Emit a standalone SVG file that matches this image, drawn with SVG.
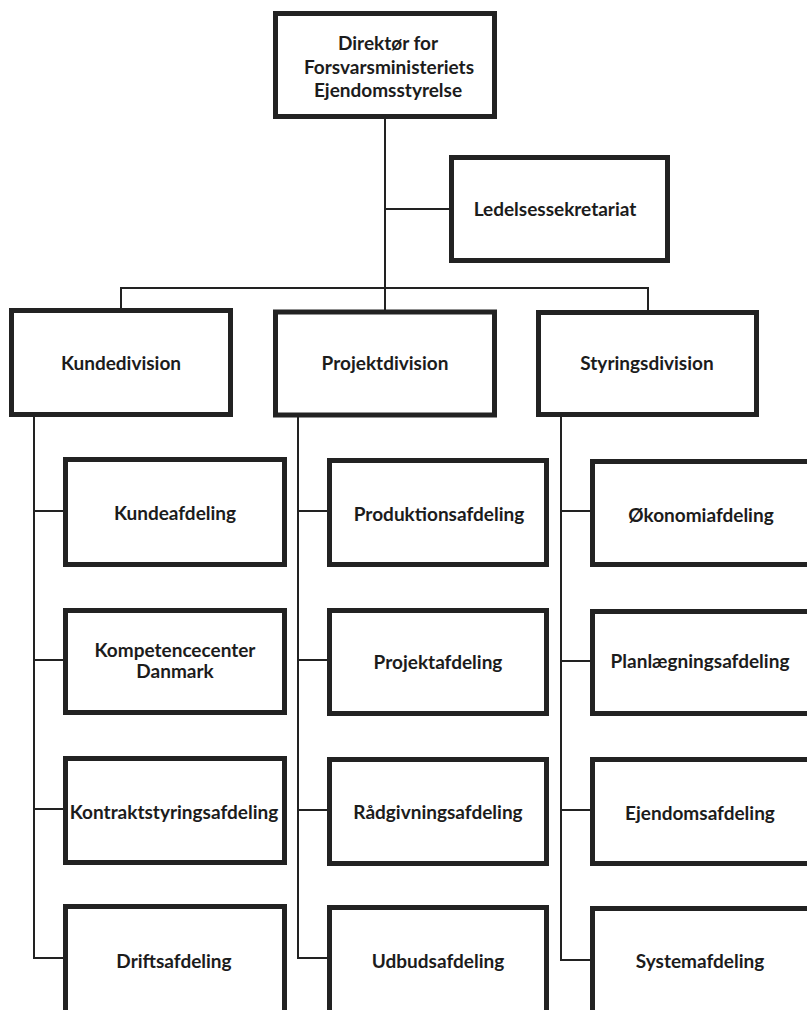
<svg xmlns="http://www.w3.org/2000/svg" width="807" height="1010" viewBox="0 0 807 1010">
<style>
.box{fill:#fff;stroke:#222;stroke-width:5}
.t{font-family:Lato,"Liberation Sans",sans-serif;font-weight:700;font-size:19px;fill:#1c1c1c;text-anchor:middle}
.c{fill:none;stroke:#222;stroke-width:2}
</style>
<rect width="807" height="1010" fill="#fff"/>
<g id="connectors" class="c">
<path d="M385 119V312"/>
<path d="M385 209H451"/>
<path d="M121 310V288H648V312"/>
<path d="M34 417V958H65M34 511H65M34 660H65M34 809H65"/>
<path d="M298 417V958H329M298 511H329M298 660H329M298 810H329"/>
<path d="M561 417V960H592M561 511H592M561 661H592M561 810H592"/>
</g>
<g id="direktor"><rect class="box" x="275.5" y="13.5" width="219" height="103"/>
<text class="t" x="388" y="50">Direktør for</text><text class="t" x="389" y="73.5">Forsvarsministeriets</text><text class="t" x="388" y="97">Ejendomsstyrelse</text></g>
<g id="ledelsessekretariat"><rect class="box" x="451.5" y="157.5" width="216" height="103"/><text class="t" x="555" y="216">Ledelsessekretariat</text></g>
<g id="kundedivision"><rect class="box" x="11.5" y="310.5" width="219" height="104"/><text class="t" x="121" y="370">Kundedivision</text></g>
<g id="projektdivision"><rect class="box" x="275.5" y="312" width="219" height="103"/><text class="t" x="385" y="370">Projektdivision</text></g>
<g id="styringsdivision"><rect class="box" x="538.5" y="312.5" width="218" height="102"/><text class="t" x="647" y="370">Styringsdivision</text></g>
<g id="kundeafdeling"><rect class="box" x="65.5" y="459.5" width="219" height="105"/><text class="t" x="175" y="520">Kundeafdeling</text></g>
<g id="kompetencecenter"><rect class="box" x="65.5" y="610.5" width="219" height="102"/><text class="t" x="175" y="657">Kompetencecenter</text><text class="t" x="175" y="678">Danmark</text></g>
<g id="kontraktstyringsafdeling"><rect class="box" x="65.5" y="758.5" width="219" height="104"/><text class="t" x="174" y="819">Kontraktstyringsafdeling</text></g>
<g id="driftsafdeling"><rect class="box" x="65.5" y="906.5" width="219" height="110"/><text class="t" x="174" y="968">Driftsafdeling</text></g>
<g id="produktionsafdeling"><rect class="box" x="329.5" y="460.5" width="217" height="104"/><text class="t" x="439" y="521">Produktionsafdeling</text></g>
<g id="projektafdeling"><rect class="box" x="329.5" y="610.5" width="217" height="103"/><text class="t" x="438" y="669">Projektafdeling</text></g>
<g id="raadgivningsafdeling"><rect class="box" x="329.5" y="759.5" width="217" height="104"/><text class="t" x="438" y="819">Rådgivningsafdeling</text></g>
<g id="udbudsafdeling"><rect class="box" x="329.5" y="907.5" width="217" height="110"/><text class="t" x="438" y="968">Udbudsafdeling</text></g>
<g id="okonomiafdeling"><rect class="box" x="592.5" y="461.5" width="220" height="103"/><text class="t" x="701" y="522">Økonomiafdeling</text></g>
<g id="planlaegningsafdeling"><rect class="box" x="592.5" y="611.5" width="220" height="102"/><text class="t" x="700" y="668">Planlægningsafdeling</text></g>
<g id="ejendomsafdeling"><rect class="box" x="592.5" y="759.5" width="220" height="104"/><text class="t" x="700" y="820">Ejendomsafdeling</text></g>
<g id="systemafdeling"><rect class="box" x="592.5" y="908.5" width="220" height="110"/><text class="t" x="700" y="968">Systemafdeling</text></g>
</svg>
